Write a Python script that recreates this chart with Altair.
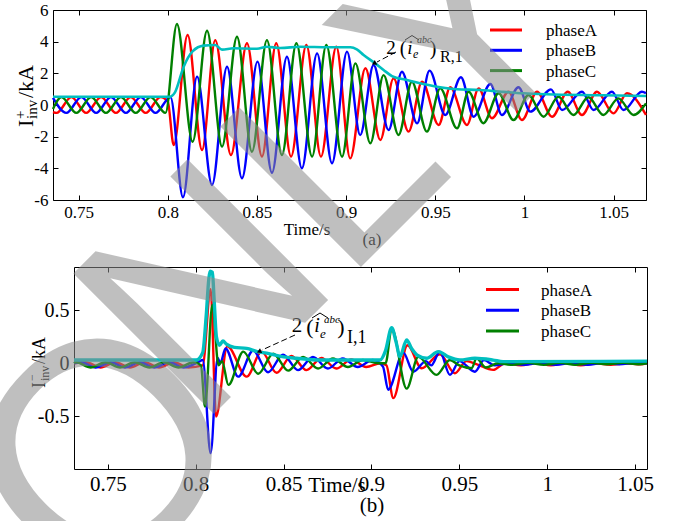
import altair as alt
import pandas as pd

W, H = 673, 521
SERIF = "Liberation Serif"

# ---------------- panel (a): positive-sequence currents (kA) ----------------
a_xticks = [0.75, 0.8, 0.85, 0.9, 0.95, 1.0, 1.05]
a_yticks = [-6, -4, -2, 0, 2, 4, 6]

a_red_t = [0.7356, 0.7376, 0.7459, 0.7542, 0.7626, 0.7709, 0.7792, 0.7876, 0.7959, 0.8000,
           0.8033, 0.8111, 0.8192, 0.8266, 0.8354, 0.8444, 0.8528, 0.8608, 0.8691, 0.8777,
           0.8859, 0.8945, 0.9023, 0.9108, 0.9192, 0.9266, 0.9350, 0.9426, 0.9519, 0.9584,
           0.9678, 0.9743, 0.9818, 0.9911, 0.9986, 1.0071, 1.0155, 1.0243, 1.0323, 1.0407,
           1.0500, 1.0575, 1.0682]
a_red_v = [-0.45, -0.5, 0.5, -0.5, 0.5, -0.5, 0.5, -0.5, 0.5, 0.2,
           -2.53, 4.42, -2.84, 4.10, -3.16, 3.90, -3.26, 3.90, -3.26, 3.79,
           -3.26, 3.68, -3.37, 2.32, -2.21, 1.68, -1.68, 1.47, -1.26, 1.12,
           -1.26, 1.05, -0.84, 0.84, -0.95, 0.84, -0.74, 0.84, -0.63, 0.84,
           -0.53, 0.74, -0.63]

a_green_t = [0.7356, 0.7403, 0.7487, 0.7570, 0.7653, 0.7737, 0.7820, 0.7903, 0.7987, 0.8051,
             0.8139, 0.8220, 0.8304, 0.8388, 0.8472, 0.8556, 0.8640, 0.8721, 0.8809, 0.8889,
             0.8977, 0.9052, 0.9136, 0.9210, 0.9294, 0.9369, 0.9453, 0.9528, 0.9622, 0.9687,
             0.9770, 0.9855, 0.9939, 1.0023, 1.0107, 1.0191, 1.0275, 1.0359, 1.0443, 1.0527,
             1.0612, 1.0682]
a_green_v = [-0.25, 0.5, -0.5, 0.5, -0.5, 0.5, -0.5, 0.5, -0.5, 5.12,
             -2.32, 4.69, -2.63, 4.31, -2.95, 4.10, -3.16, 3.90, -3.26, 3.79,
             -3.26, 2.63, -2.42, 1.89, -1.89, 1.47, -1.68, 1.05, -1.47, 0.84,
             -1.15, 0.74, -0.95, 0.63, -0.74, 0.52, -0.63, 0.49, -0.63, 0.42,
             -0.63, 0.10]

a_blue_t = [0.7356, 0.7431, 0.7515, 0.7598, 0.7681, 0.7765, 0.7848, 0.7931, 0.8015, 0.8085,
            0.8164, 0.8248, 0.8332, 0.8416, 0.8503, 0.8584, 0.8668, 0.8752, 0.8837, 0.8921,
            0.9005, 0.9079, 0.9154, 0.9238, 0.9313, 0.9398, 0.9468, 0.9556, 0.9644, 0.9715,
            0.9809, 0.9874, 0.9967, 1.0033, 1.0149, 1.0211, 1.0323, 1.0388, 1.0491, 1.0556,
            1.0659, 1.0682]
a_blue_v = [0.45, -0.5, 0.5, -0.5, 0.5, -0.5, 0.5, -0.5, 0.5, -5.83,
            1.79, -5.05, 2.42, -4.63, 2.74, -4.28, 3.05, -4.00, 3.26, -3.68,
            3.37, -1.90, 2.53, -1.58, 2.10, -1.16, 2.17, -0.63, 1.75, -0.74,
            1.33, -0.63, 1.12, -0.42, 0.99, -0.32, 0.84, -0.32, 0.84, -0.32,
            0.84, 0.75]

a_cyan_t = [0.7356, 0.8010, 0.8040, 0.8089, 0.8140, 0.8201, 0.8266, 0.8304, 0.8369, 0.8500,
            0.8556, 0.8631, 0.8743, 0.8900, 0.9024, 0.9060, 0.9098, 0.9163, 0.9210, 0.9257,
            0.9341, 0.9434, 0.9528, 0.9622, 0.9752, 0.9860, 0.9995, 1.0126, 1.0400, 1.0682]
a_cyan_v = [0.52, 0.52, 0.80, 2.42, 3.40, 3.75, 3.79, 3.50, 3.58, 3.55,
            3.68, 3.60, 3.68, 3.65, 3.65, 3.52, 3.16, 2.63, 2.21, 1.83,
            1.58, 1.33, 1.12, 0.99, 0.95, 0.85, 0.74, 0.68, 0.62, 0.57]

# ---------------- panel (b): negative-sequence currents (kA) ----------------
b_xticks = [0.75, 0.8, 0.85, 0.9, 0.95, 1.0, 1.05]
b_yticks = [-0.5, 0, 0.5]

b_red_t = [0.7308, 0.7376, 0.7459, 0.7542, 0.7626, 0.7709, 0.7792, 0.7876, 0.7959, 0.8040,
           0.8085, 0.8116, 0.8180, 0.8290, 0.8375, 0.8460, 0.8545, 0.8630, 0.8715, 0.8800,
           0.8885, 0.8970, 0.9050, 0.9085, 0.9124, 0.9205, 0.9285, 0.9389, 0.9474, 0.9540,
           0.9600, 0.9692, 0.9760, 0.9850, 0.9935, 1.0020, 1.0105, 1.0190, 1.0275, 1.0360,
           1.0445, 1.0530, 1.0567]
b_red_v = [0.0, 0.01, -0.04, 0.01, -0.04, 0.01, -0.04, 0.01, -0.04, -0.02,
           0.70, -0.505, 0.16, -0.127, 0.11, -0.09, 0.07, -0.065, 0.05, -0.05,
           0.035, -0.035, 0.0, -0.02, -0.33, 0.17, -0.047, 0.085, -0.095, 0.02,
           -0.01, -0.063, 0.0, -0.02, 0.005, -0.02, 0.005, -0.02, 0.0, -0.015,
           0.0, -0.01, 0.0]

b_green_t = [0.7308, 0.7320, 0.7403, 0.7487, 0.7570, 0.7653, 0.7737, 0.7820, 0.7903, 0.7987,
             0.8030, 0.8053, 0.8095, 0.8130, 0.8150, 0.8186, 0.8271, 0.8356, 0.8441, 0.8526,
             0.8611, 0.8696, 0.8781, 0.8866, 0.8951, 0.9040, 0.9080, 0.9115, 0.9200, 0.9266,
             0.9370, 0.9446, 0.9500, 0.9570, 0.9597, 0.9650, 0.9720, 0.9800, 0.9890, 0.9980,
             1.0070, 1.0160, 1.0250, 1.0340, 1.0430, 1.0520, 1.0567]
b_green_v = [0.0, 0.01, -0.04, 0.01, -0.04, 0.01, -0.04, 0.01, -0.04, 0.01,
             -0.02, -0.41, 0.55, -0.02, 0.02, -0.205, 0.11, -0.10, 0.09, -0.07,
             0.06, -0.05, 0.045, -0.035, 0.03, 0.0, 0.0, 0.33, -0.24, 0.06,
             -0.11, 0.03, -0.02, -0.047, 0.047, -0.04, 0.0, -0.015, 0.005, -0.015,
             0.005, -0.015, 0.005, -0.01, 0.005, -0.01, 0.0]

b_blue_t = [0.7308, 0.7348, 0.7431, 0.7515, 0.7598, 0.7681, 0.7765, 0.7848, 0.7931, 0.8015,
            0.8040, 0.8085, 0.8125, 0.8140, 0.8170, 0.8242, 0.8327, 0.8412, 0.8497, 0.8582,
            0.8667, 0.8752, 0.8837, 0.8922, 0.9007, 0.9065, 0.9095, 0.9181, 0.9237, 0.9310,
            0.9340, 0.9389, 0.9446, 0.9500, 0.9588, 0.9640, 0.9700, 0.9780, 0.9870, 0.9960,
            1.0050, 1.0140, 1.0230, 1.0320, 1.0410, 1.0500, 1.0567]
b_blue_v = [0.0, 0.01, -0.04, 0.01, -0.04, 0.01, -0.04, 0.01, -0.04, 0.01,
            0.03, -0.85, 0.05, 0.0, 0.14, -0.127, 0.12, -0.085, 0.08, -0.065,
            0.06, -0.05, 0.045, -0.035, 0.03, -0.03, -0.25, 0.10, -0.08, 0.02,
            -0.02, 0.11, -0.11, 0.02, -0.08, 0.03, -0.02, 0.0, -0.015, 0.005,
            -0.015, 0.005, -0.015, 0.005, -0.01, 0.005, 0.0]

b_cyan_t = [0.7308, 0.8003, 0.8040, 0.8060, 0.8075, 0.8082, 0.8095, 0.8105, 0.8118, 0.8135,
            0.8155, 0.8175, 0.8220, 0.8290, 0.8350, 0.8404, 0.8500, 0.8574, 0.8707, 0.9048,
            0.9080, 0.9115, 0.9140, 0.9162, 0.9200, 0.9228, 0.9266, 0.9313, 0.9380, 0.9437,
            0.9503, 0.9588, 0.9692, 0.9749, 1.0567]
b_cyan_v = [0.03, 0.03, 0.10, 0.45, 0.80, 0.87, 0.86, 0.60, 0.25, 0.17,
            0.21, 0.18, 0.15, 0.14, 0.11, 0.095, 0.06, 0.047, 0.03, 0.03,
            0.12, 0.337, 0.20, 0.063, 0.22, 0.14, 0.07, 0.047, 0.11, 0.06,
            0.03, 0.047, 0.03, 0.015, 0.02]

legend_names = ["phaseA", "phaseB", "phaseC"]
phase_colors = ["#FF0000", "#0000FF", "#008000"]
envelope_color = "#00BFBF"
watermark_letters = ["O", "N", "L", "Y"]

# ---------------- pixel layout ----------------
A_X = alt.Scale(domain=[0.7356, 1.0682], range=[53, 646], nice=False, zero=False)
A_Y = alt.Scale(domain=[-6, 6], range=[200, 10], nice=False, zero=False)
B_X = alt.Scale(domain=[0.7308, 1.0567], range=[74, 647], nice=False, zero=False)
B_Y = alt.Scale(domain=[-1.0, 0.91], range=[469, 267], nice=False, zero=False)

LBL = "'' + datum.value"


def axes_for(xt, yt, left, right, top, bottom, xfs, yfs):
    main_x = alt.Axis(orient="bottom", offset=bottom - H, values=xt, labelExpr=LBL, ticks=False,
                      tickSize=0, domain=True, labelPadding=4, labelFontSize=xfs)
    main_y = alt.Axis(orient="left", offset=-left, values=yt, labelExpr=LBL, ticks=False,
                      tickSize=0, domain=True, labelPadding=5, labelFontSize=yfs)
    in_x = alt.Axis(orient="top", offset=-bottom, values=xt, labels=False, domain=False,
                    ticks=True, tickSize=5)
    in_y = alt.Axis(orient="right", offset=left - W, values=yt, labels=False, domain=False,
                    ticks=True, tickSize=5)
    fr_x = alt.Axis(orient="bottom", offset=top - H, values=xt, labels=False, domain=True,
                    ticks=True, tickSize=5)
    fr_y = alt.Axis(orient="left", offset=-right, values=yt, labels=False, domain=True,
                    ticks=True, tickSize=5)
    return [(main_x, main_y), (in_x, in_y), (fr_x, fr_y), (None, None)]


def line(t, v, color, xs, ys, width, axes):
    df = pd.DataFrame({"t": t, "v": v})
    return alt.Chart(df).mark_line(color=color, strokeWidth=width, interpolate="monotone").encode(
        x=alt.X("t:Q", scale=xs, axis=axes[0]),
        y=alt.Y("v:Q", scale=ys, axis=axes[1]),
    )


def txt(s, x, y, size=17, align="left", baseline="alphabetic", angle=0, style="normal",
        font=SERIF, color="black", opacity=1.0):
    return alt.Chart(alt.Data(values=[{"s": s}])).mark_text(
        align=align, baseline=baseline, angle=angle, fontSize=size, font=font,
        fontStyle=style, color=color, opacity=opacity).encode(
        x=alt.value(x), y=alt.value(y), text="s:N")


def seg(x1, y1, x2, y2, color="black", width=1.0, dash=None):
    kw = dict(color=color, strokeWidth=width)
    if dash:
        kw["strokeDash"] = dash
    return alt.Chart(alt.Data(values=[{}])).mark_rule(**kw).encode(
        x=alt.value(x1), y=alt.value(y1), x2=alt.value(x2), y2=alt.value(y2))


def arrowhead(x, y, angle):
    return alt.Chart(alt.Data(values=[{}])).mark_point(
        shape="triangle-up", filled=True, color="black", size=28, angle=angle, opacity=1
    ).encode(x=alt.value(x), y=alt.value(y))


layers = []

# panel (a)
ax_a = axes_for(a_xticks, a_yticks, 53, 646, 10, 200, 17, 17)
layers.append(line(a_red_t, a_red_v, phase_colors[0], A_X, A_Y, 2.4, ax_a[0]))
layers.append(line(a_blue_t, a_blue_v, phase_colors[1], A_X, A_Y, 2.4, ax_a[1]))
layers.append(line(a_green_t, a_green_v, phase_colors[2], A_X, A_Y, 2.4, ax_a[2]))
layers.append(line(a_cyan_t, a_cyan_v, envelope_color, A_X, A_Y, 2.6, ax_a[3]))

# panel (b)
ax_b = axes_for(b_xticks, b_yticks, 74, 647, 267, 469, 21, 20)
layers.append(line(b_red_t, b_red_v, phase_colors[0], B_X, B_Y, 2.4, ax_b[0]))
layers.append(line(b_blue_t, b_blue_v, phase_colors[1], B_X, B_Y, 2.4, ax_b[1]))
layers.append(line(b_green_t, b_green_v, phase_colors[2], B_X, B_Y, 2.4, ax_b[2]))
layers.append(line(b_cyan_t, b_cyan_v, envelope_color, B_X, B_Y, 3.4, ax_b[3]))

# legends
for i, name in enumerate(legend_names):
    ya = 30 + 20.3 * i
    layers.append(seg(490, ya, 522, ya, phase_colors[i], 3))
    layers.append(txt(name, 546, ya + 1, 17, baseline="middle"))
    yb = 289.5 + 20.8 * i
    layers.append(seg(486, yb, 519, yb, phase_colors[i], 3))
    layers.append(txt(name, 541, yb + 1, 17, baseline="middle"))

# axis titles & captions
layers.append(txt("Time/s", 307, 235, 17, align="center"))
layers.append(txt("(a)", 372, 245, 17, align="center"))
layers.append(txt("Time/s", 337, 492, 21, align="center"))
layers.append(txt("(b)", 372, 512, 21, align="center"))

# y titles (rotated)
layers.append(txt("I", 33, 127, 22, angle=270))
layers.append(txt("+", 25, 119, 15, angle=270))
layers.append(txt("inv", 37, 119, 15, angle=270))
layers.append(txt("/kA", 33, 98, 22, angle=270))

layers.append(txt("I", 45, 388, 18, angle=270))
layers.append(txt("\u2212", 36, 381, 12, angle=270))
layers.append(txt("inv", 49, 381, 12, angle=270))
layers.append(txt("/kA", 45, 364, 18, angle=270))

# annotation (a)
layers.append(txt("2", 391, 54, 19, align="center"))
layers.append(txt("(", 403, 55, 20, align="center"))
layers.append(txt("i", 410, 54, 19, style="italic", align="center"))
layers.append(seg(405, 40, 412, 35.5))
layers.append(seg(412, 35.5, 419, 40))
layers.append(txt("abc", 417, 43, 10, style="italic"))
layers.append(txt("e", 413, 58, 12, style="italic"))
layers.append(txt(")", 433, 55, 20, align="center"))
layers.append(txt("R,1", 440, 62, 16))
layers.append(seg(396, 52, 377, 62, dash=[6, 3]))
layers.append(arrowhead(374, 63.5, 242))

# annotation (b)
layers.append(txt("2", 297, 332, 21, align="center"))
layers.append(txt("(", 310, 334, 22, align="center"))
layers.append(txt("i", 317, 332, 20, style="italic", align="center"))
layers.append(seg(312, 318, 320, 313))
layers.append(seg(320, 313, 328, 318))
layers.append(txt("abc", 324, 323, 11, style="italic"))
layers.append(txt("e", 320, 338, 13, style="italic"))
layers.append(txt(")", 341, 334, 22, align="center"))
layers.append(txt("I,1", 347, 343, 18))
layers.append(seg(295, 335, 262, 350, dash=[6, 3]))
layers.append(arrowhead(259, 351.5, 246))

# watermark (each letter placed along a 45 degree baseline)
wm = [(watermark_letters[0], 176, 526, 310),
      (watermark_letters[1], 271, 357, 289),
      (watermark_letters[2], 401, 227, 289),
      (watermark_letters[3], 526, 102, 289)]
for ch, x, y, s in wm:
    layers.append(txt(ch, x, y, s, align="center", angle=315, font="Liberation Sans",
                      color="#8c8c8c", opacity=0.55))

chart = alt.layer(*layers).resolve_scale(
    x="independent", y="independent"
).resolve_axis(
    x="independent", y="independent"
).properties(
    width=W, height=H, padding=0, autosize=alt.AutoSizeParams(type="none")
).configure_view(stroke=None).configure_axis(
    grid=False, title=None, labelFont=SERIF, labelColor="black", domainColor="black",
    tickColor="black", labelFlush=False, labelOverlap=False, labelBound=False,
    domainWidth=1, tickWidth=1
)

chart.save("out.html", embed_options={"renderer": "svg", "actions": False})
